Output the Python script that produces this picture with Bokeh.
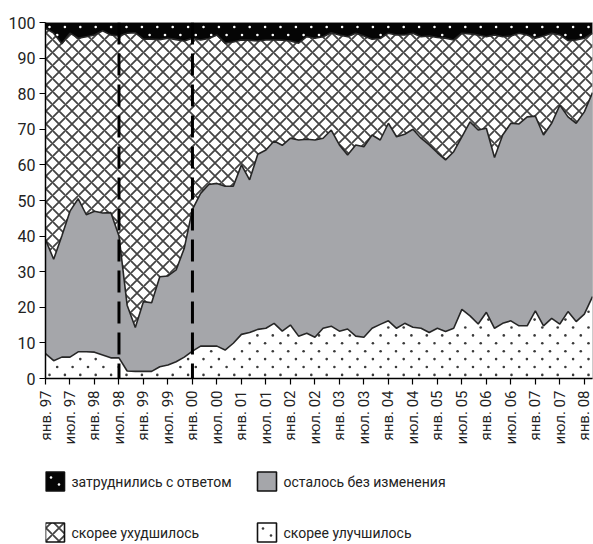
import numpy as np
import pandas as pd
from math import pi
from bokeh.plotting import figure
from bokeh.layouts import column
from bokeh.models import ColumnDataSource, FixedTicker, Span, Range1d
from bokeh.core.properties import value
from bokeh.embed import file_html
from bokeh.resources import INLINE

# ---------------- data ----------------
first_period = "1997-01"
n_points = 68          # one survey every two months, Jan 1997 - Mar 2008

improved = [7.0, 5.0, 6.0, 6.0, 7.5, 7.5, 7.4, 6.6, 5.8, 5.8,
            2.1, 2.0, 2.0, 2.0, 3.3, 3.8, 4.7, 6.0, 7.7, 9.1,
            9.1, 9.1, 8.0, 9.9, 12.4, 12.9, 13.8, 14.1, 15.5, 13.3,
            15.0, 11.9, 12.7, 11.6, 14.1, 14.7, 13.3, 13.9, 11.9, 11.6,
            14.1, 15.2, 16.2, 14.1, 15.5, 14.4, 14.1, 12.9, 14.1, 13.2,
            14.1, 19.4, 17.6, 15.3, 18.6, 14.1, 15.5, 16.2, 14.8, 14.8,
            19.0, 14.8, 16.9, 15.3, 18.8, 16.0, 18.1, 23.0]

unchanged = [32.0, 28.5, 34.0, 41.0, 43.0, 38.5, 39.6, 39.9, 40.8, 34.2,
             18.5, 12.3, 19.6, 19.3, 25.3, 25.0, 25.8, 30.6, 39.8, 42.9,
             45.4, 45.7, 46.0, 44.1, 47.6, 42.9, 49.2, 50.1, 51.2, 52.2,
             52.5, 55.1, 54.5, 55.4, 53.4, 55.1, 52.3, 48.9, 53.7, 53.5,
             54.3, 51.8, 55.5, 53.8, 53.1, 55.6, 53.4, 52.7, 49.3, 48.2,
             49.6, 48.5, 54.5, 54.5, 51.7, 48.0, 52.9, 55.5, 56.7, 58.7,
             54.7, 53.6, 54.8, 61.5, 54.7, 55.7, 56.8, 57.3]

worsened = [59.4, 63.5, 54.0, 50.0, 45.1, 50.0, 49.5, 51.2, 49.9, 56.2,
            76.4, 82.8, 73.7, 74.0, 66.6, 66.8, 64.7, 58.2, 48.1, 43.1,
            41.0, 41.7, 40.2, 40.5, 35.1, 39.2, 31.8, 30.9, 28.4, 29.5,
            27.3, 27.2, 28.8, 28.6, 28.5, 27.3, 30.9, 33.2, 31.4, 31.1,
            26.9, 28.5, 25.3, 28.6, 27.9, 27.0, 28.5, 30.6, 32.4, 34.2,
            31.4, 29.1, 24.7, 26.7, 25.7, 34.4, 27.6, 24.5, 25.5, 23.0,
            21.9, 27.8, 25.3, 19.7, 21.4, 23.4, 20.7, 16.7]

no_answer = [1.6, 3.0, 6.0, 3.0, 4.4, 4.0, 3.5, 2.3, 3.5, 3.8,
             3.0, 2.9, 4.7, 4.7, 4.8, 4.4, 4.8, 5.2, 4.4, 4.9,
             4.5, 3.5, 5.8, 5.5, 4.9, 5.0, 5.2, 4.9, 4.9, 5.0,
             5.2, 5.8, 4.0, 4.4, 4.0, 2.9, 3.5, 4.0, 3.0, 3.8,
             4.7, 4.5, 3.0, 3.5, 3.5, 3.0, 4.0, 3.8, 4.2, 4.4,
             4.9, 3.0, 3.2, 3.5, 4.0, 3.5, 4.0, 3.8, 3.0, 3.5,
             4.4, 3.8, 3.0, 3.5, 5.1, 4.9, 4.4, 3.0]

tick_labels = ["янв. 97", "июл. 97", "янв. 98", "июл. 98", "янв. 99", "июл. 99",
               "янв. 00", "июл. 00", "янв. 01", "июл. 01", "янв. 02", "июл. 02",
               "янв. 03", "июл. 03", "янв. 04", "июл. 04", "янв. 05", "июл. 05",
               "янв. 06", "июл. 06", "янв. 07", "июл. 07", "янв. 08"]
event_labels = ["июл. 98", "янв. 00"]

series_names = {
    "improved": "скорее улучшилось",
    "unchanged": "осталось без изменения",
    "worsened": "скорее ухудшилось",
    "no_answer": "затруднились с ответом",
}
legend_order = ["no_answer", "unchanged", "worsened", "improved"]   # row by row, 2 per row

# ---------------- preparation ----------------
dates = pd.date_range(first_period, periods=n_points, freq="2MS")
y0 = dates[0].year
x = [(d.year - y0) * 12 + d.month - 1 for d in dates]
tick_pos = [6 * i for i in range(len(tick_labels))]

c0 = [0.0] * n_points
c1 = [a for a in improved]
c2 = [a + b for a, b in zip(c1, unchanged)]
c3 = [a + b for a, b in zip(c2, worsened)]
c4 = [a + b for a, b in zip(c3, no_answer)]

src = ColumnDataSource(dict(x=x, c0=c0, c1=c1, c2=c2, c3=c3, c4=c4))

FONT = "Roboto"
LINE = "#262626"
FRAME_W, FRAME_H = 547, 356
BORDER_L, BORDER_T, BORDER_R = 45, 22, 1

styles = {
    "improved": dict(fill_color="white"),
    "unchanged": dict(fill_color="#a5a6aa"),
    "worsened": dict(fill_color="white", hatch_pattern="diagonal_cross", hatch_color="#444444",
                     hatch_scale=13, hatch_weight=1.8),
    "no_answer": dict(fill_color="#050505"),
}

p = figure(width=BORDER_L + FRAME_W + BORDER_R, height=456, output_backend="svg",
           toolbar_location=None,
           x_range=Range1d(x[0], x[-1]), y_range=Range1d(0, 100),
           min_border_left=BORDER_L, min_border_top=BORDER_T, min_border_right=BORDER_R,
           min_border_bottom=456 - BORDER_T - FRAME_H)
p.grid.visible = False
p.outline_line_color = "#bbbbbb"
p.background_fill_color = "white"

layers = [("improved", "c0", "c1"), ("unchanged", "c1", "c2"),
          ("worsened", "c2", "c3"), ("no_answer", "c3", "c4")]
for key, lo, hi in layers:
    p.varea(x="x", y1=lo, y2=hi, source=src, **styles[key])

# staggered dot texture (small dots) for the "improved" and "no answer" areas
ux = (x[-1] - x[0]) / FRAME_W      # data units per pixel
uy = 100.0 / FRAME_H

def lattice(rows_px, keep, dx_px=15.4):
    xs, ys = [], []
    for r, ypx in enumerate(rows_px):
        off = 4.0 if r % 2 == 0 else 4.0 + dx_px / 2
        for xpx in np.arange(off, FRAME_W - 1, dx_px):
            xd, yd = x[0] + xpx * ux, ypx * uy
            if keep(xd, yd):
                xs.append(xd)
                ys.append(yd)
    return xs, ys

bx, by = lattice([3.6 + 7.9 * k for k in range(14)],
                 lambda xd, yd: yd < np.interp(xd, x, c1) - 2.5 * uy)
tx, ty = lattice([FRAME_H - 4.5, FRAME_H - 12.5],
                 lambda xd, yd: yd > np.interp(xd, x, c3) + 2.0 * uy)
p.scatter(bx, by, marker="circle", size=2.6, fill_color="#3a3a3a", line_color=None)
p.scatter(tx, ty, marker="circle", size=2.6, fill_color="white", line_color=None)

for col in ["c1", "c2", "c3"]:
    p.line(x="x", y=col, source=src, line_color=LINE, line_width=1.6)

for lab in event_labels:
    pos = tick_pos[tick_labels.index(lab)]
    p.add_layout(Span(location=pos, dimension="height", line_color="black",
                      line_width=3, line_dash="22 9"))

# axes
p.yaxis.ticker = FixedTicker(ticks=list(range(0, 101, 10)))
p.xaxis.ticker = FixedTicker(ticks=tick_pos)
p.xaxis.major_label_overrides = {pos: lab for pos, lab in zip(tick_pos, tick_labels)}
p.xaxis.major_label_orientation = pi / 2
for ax in (p.xaxis, p.yaxis):
    ax.axis_line_color = "black"
    ax.axis_line_width = 1.5
    ax.major_tick_line_color = "black"
    ax.major_tick_line_width = 1.2
    ax.major_tick_in = 0
    ax.major_tick_out = 6
    ax.minor_tick_line_color = None
    ax.major_label_text_font = FONT
    ax.major_label_text_color = "#222222"
p.yaxis.major_label_text_font_size = "16px"
p.xaxis.major_label_text_font_size = "15px"
p.yaxis.major_label_standoff = 4
p.xaxis.major_label_standoff = 6

# ---------------- legend strip (page-pixel coordinates) ----------------
LH = 88
lf = figure(width=BORDER_L + FRAME_W + BORDER_R, height=LH, output_backend="svg",
            toolbar_location=None,
            x_range=Range1d(BORDER_L, BORDER_L + FRAME_W), y_range=Range1d(0, LH),
            x_axis_location=None, y_axis_location=None,
            min_border_left=BORDER_L, min_border_right=BORDER_R,
            min_border_top=0, min_border_bottom=0)
lf.grid.visible = False
lf.outline_line_color = None

col_x = [54.5, 266.5]      # swatch centres
row_y = [63, 12]           # row centres
SW = 19
swatch_dots = {"no_answer": "white", "improved": "#3a3a3a"}
for i, key in enumerate(legend_order):
    cx = col_x[i % 2]
    cy = row_y[i // 2]
    lf.rect(x=[cx], y=[cy], width=SW, height=SW, line_color="#111111", line_width=1.6,
            **styles[key])
    if key in swatch_dots:
        lf.scatter([cx - 4, cx + 4], [cy + 4, cy - 3], marker="circle", size=2.6,
                   fill_color=swatch_dots[key], line_color=None)
    lf.text(x=[cx + SW / 2 + 7], y=[cy], text=[series_names[key]],
            text_font=value(FONT), text_font_size="14px", text_color="#222222",
            text_baseline="middle", text_align="left")

layout = column(p, lf, spacing=0)
open("out.html", "w").write(file_html(layout, INLINE))
